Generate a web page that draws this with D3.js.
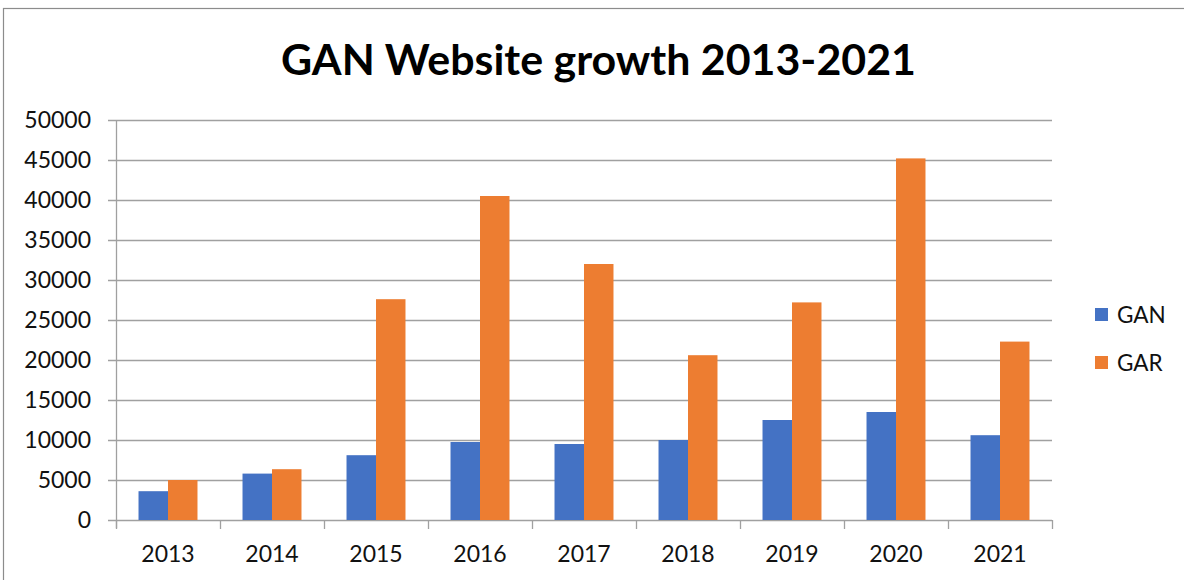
<!DOCTYPE html>
<html>
<head>
<meta charset="utf-8">
<script src="https://cdn.jsdelivr.net/npm/d3@7"></script>
<style>
  html, body { margin: 0; padding: 0; background: #fff; }
  svg { display: block; }
</style>
</head>
<body>
<svg id="chart" width="1184" height="580"></svg>
<script>
const years = ["2013", "2014", "2015", "2016", "2017", "2018", "2019", "2020", "2021"];
const seriesNames = ["GAN", "GAR"];
const ganValues = [3600, 5800, 8100, 9750, 9500, 10000, 12500, 13500, 10600];
const garValues = [5000, 6350, 27600, 40500, 32000, 20600, 27200, 45200, 22300];
const yTicks = [0, 5000, 10000, 15000, 20000, 25000, 30000, 35000, 40000, 45000, 50000];
const titleText = "GAN Website growth 2013-2021";
const colors = ["#4472C4", "#ED7D31"];

(function () {
const svg = d3.select("#chart");
const FONT = "Lato, Carlito, Calibri, 'Open Sans', sans-serif";

// outer chart border
svg.append("rect")
  .attr("x", 3.5).attr("y", 8.5)
  .attr("width", 1200).attr("height", 600)
  .attr("fill", "#fff").attr("stroke", "#8c8c8c").attr("stroke-width", 1.2);

const pLeft = 116, pRight = 1052, pTop = 120, pBottom = 520;

const x = d3.scaleBand().domain(years).range([pLeft, pRight])
  .paddingInner(0.433).paddingOuter(0.2165);
const xs = d3.scaleBand().domain(seriesNames).range([0, x.bandwidth()]);
const y = d3.scaleLinear().domain([0, 50000]).range([pBottom, pTop]);

// gridlines
svg.append("g").selectAll("line").data(yTicks).join("line")
  .attr("x1", pLeft - 8).attr("x2", pRight)
  .attr("y1", d => Math.round(y(d)) + 0.5).attr("y2", d => Math.round(y(d)) + 0.5)
  .attr("stroke", "#a0a0a0").attr("stroke-width", 1.3);

// y axis line
svg.append("line").attr("x1", pLeft + 0.5).attr("x2", pLeft + 0.5)
  .attr("y1", pTop).attr("y2", pBottom + 8)
  .attr("stroke", "#a0a0a0").attr("stroke-width", 1.3);

// x ticks at band boundaries
const bounds = years.map((d, i) => pLeft + i * x.step()).concat([pRight]);
svg.append("g").selectAll("line").data(bounds).join("line")
  .attr("x1", d => Math.round(d) + 0.5).attr("x2", d => Math.round(d) + 0.5)
  .attr("y1", pBottom).attr("y2", pBottom + 9)
  .attr("stroke", "#a0a0a0").attr("stroke-width", 1.3);

// y labels
svg.append("g").selectAll("text").data(yTicks).join("text")
  .attr("x", 91).attr("y", d => y(d) + 8)
  .attr("text-anchor", "end")
  .attr("font-family", FONT).attr("font-size", 23).attr("fill", "#111")
  .text(d => d);

// x labels
svg.append("g").selectAll("text").data(years).join("text")
  .attr("x", d => x(d) + x.bandwidth() / 2).attr("y", 562)
  .attr("text-anchor", "middle")
  .attr("font-family", FONT).attr("font-size", 23).attr("fill", "#111")
  .text(d => d);

// bars
const rows = years.map((yr, i) => ({ year: yr, vals: [ganValues[i], garValues[i]] }));
const groups = svg.append("g").selectAll("g").data(rows).join("g")
  .attr("transform", d => `translate(${x(d.year)},0)`);
groups.selectAll("rect").data(d => d.vals.map((v, j) => ({ key: seriesNames[j], v, j })))
  .join("rect")
  .attr("x", d => xs(d.key)).attr("width", xs.bandwidth())
  .attr("y", d => y(d.v)).attr("height", d => y(0) - y(d.v))
  .attr("fill", d => colors[d.j]);

// title
const title = svg.append("text")
  .attr("x", 598.5).attr("y", 75)
  .attr("text-anchor", "middle")
  .attr("font-family", FONT).attr("font-weight", "bold").attr("font-size", 44)
  .attr("fill", "#000")
  .text(titleText);
const tw = title.node().getComputedTextLength();
title.attr("font-size", 44 * 635 / tw);

// legend
const legend = svg.append("g").selectAll("g").data(seriesNames).join("g")
  .attr("transform", (d, i) => `translate(1095, ${308 + i * 48})`);
legend.append("rect").attr("width", 13).attr("height", 13)
  .attr("fill", (d, i) => colors[i]);
legend.append("text").attr("x", 22).attr("y", 14.5)
  .attr("font-family", FONT).attr("font-size", 22.5).attr("fill", "#111")
  .text(d => d);
})();
</script>
</body>
</html>
